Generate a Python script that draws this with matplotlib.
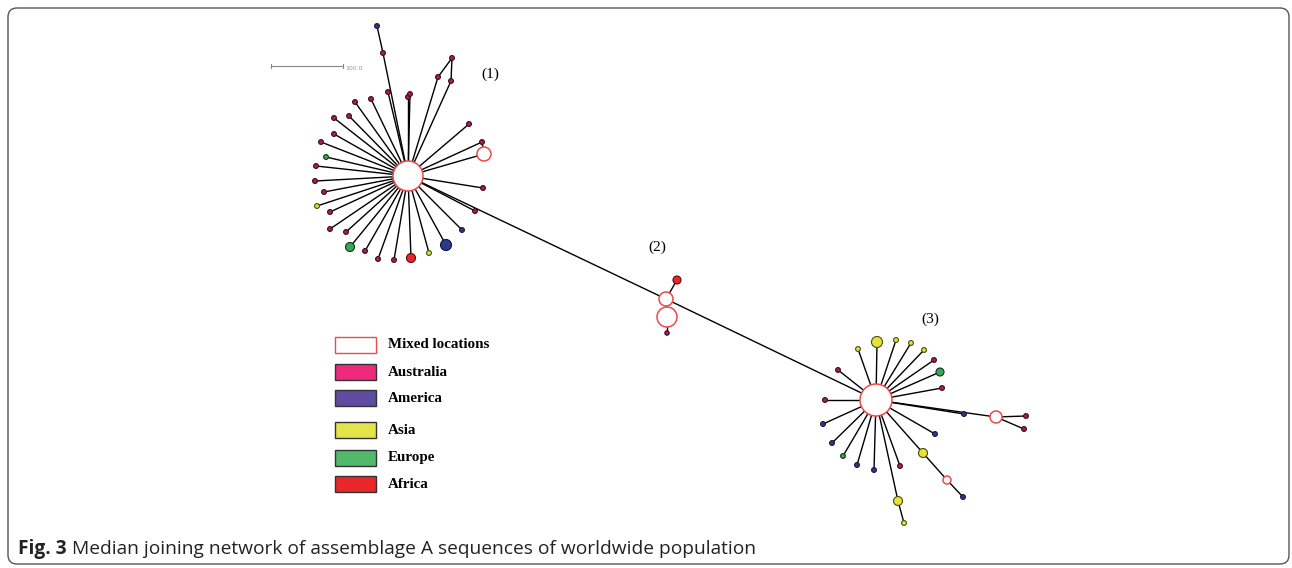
import matplotlib
matplotlib.use("Agg")
import matplotlib.pyplot as plt
from matplotlib.patches import Circle, Rectangle, FancyBboxPatch

# --- network data (pixel layout of the published figure) ---
# node id -> x, y, radius, group
node_ids = ["c1", "m1", "c2a", "c2b", "c3", "m3a", "m3b",
            "a1", "a2", "a3", "a4", "a5", "a6", "a7", "a8", "a9", "a10",
            "a11", "a12", "a13", "a14", "a15", "a16", "a17", "a18", "a19", "a20",
            "a21", "a22", "a23", "a24", "a25", "a26", "a27", "a28", "a29", "a30",
            "a31", "a32", "a33",
            "b1", "b2",
            "d1", "d2", "d3", "d4", "d5", "d6", "d7", "d8", "d9", "d10",
            "d11", "d12", "d13", "d14", "d15", "d16", "d17", "d18", "d19", "d20",
            "d21", "d22", "d23", "d24", "d25"]
node_x = [408, 484, 666, 667, 876, 996, 947,
          383, 377, 388, 408, 410, 371, 355, 349, 334, 334,
          321, 326, 316, 315, 324, 317, 330, 330, 346, 350,
          365, 378, 394, 411, 429, 446, 462, 475, 483, 482,
          438, 452, 451,
          677, 667,
          877, 858, 896, 911, 924, 934, 940, 942, 838, 825,
          823, 832, 843, 857, 874, 900, 935, 923, 963, 898,
          904, 964, 1026, 1024, 469]
node_y = [176, 154, 299, 317, 400, 417, 480,
          53, 26, 92, 97, 94, 99, 102, 116, 118, 134,
          142, 157, 166, 181, 192, 206, 212, 229, 232, 247,
          251, 259, 260, 258, 253, 245, 230, 211, 188, 142,
          77, 58, 81,
          280, 333,
          342, 349, 340, 343, 350, 360, 372, 388, 370, 400,
          424, 443, 456, 465, 470, 466, 434, 453, 497, 501,
          523, 414, 416, 429, 124]
node_r = [15, 7, 7, 10, 16, 6, 4,
          2.4, 2.4, 2.4, 2.4, 2.4, 2.4, 2.4, 2.4, 2.4, 2.4,
          2.4, 2.4, 2.4, 2.4, 2.4, 2.4, 2.4, 2.4, 2.4, 4.5,
          2.4, 2.4, 2.4, 4.5, 2.4, 5.5, 2.4, 2.4, 2.4, 2.4,
          2.4, 2.4, 2.4,
          4, 2.2,
          5.5, 2.4, 2.4, 2.4, 2.4, 2.4, 4, 2.4, 2.4, 2.4,
          2.4, 2.4, 2.4, 2.4, 2.4, 2.4, 2.4, 4.5, 2.4, 4.5,
          2.4, 2.4, 2.4, 2.4, 2.4]
node_group = ["Mixed", "Mixed", "Mixed", "Mixed", "Mixed", "Mixed", "Mixed",
              "Australia", "America", "Australia", "Australia", "Australia", "Australia",
              "Australia", "Australia", "Australia", "Australia",
              "Australia", "Europe", "Australia", "Australia", "Australia", "Asia",
              "Australia", "Australia", "Australia", "Europe",
              "Australia", "Australia", "Australia", "Africa", "Asia", "America",
              "America", "Australia", "Australia", "Australia",
              "Australia", "Australia", "Australia",
              "Africa", "Australia",
              "Asia", "Asia", "Asia", "Asia", "Asia", "Australia", "Europe", "Australia",
              "Australia", "Australia",
              "America", "America", "Europe", "America", "America", "Australia", "America",
              "Asia", "America", "Asia",
              "Asia", "America", "Australia", "Australia", "Australia"]

edges = [("c1", "m1"), ("c1", "c2a"), ("c2a", "c3"), ("c2a", "b1"), ("c2a", "c2b"),
         ("c2b", "b2"),
         ("c1", "a1"), ("a1", "a2"), ("c1", "a3"), ("c1", "a4"), ("c1", "a5"),
         ("c1", "a6"), ("c1", "a7"), ("c1", "a8"), ("c1", "a9"), ("c1", "a10"),
         ("c1", "a11"), ("c1", "a12"), ("c1", "a13"), ("c1", "a14"), ("c1", "a15"),
         ("c1", "a16"), ("c1", "a17"), ("c1", "a18"), ("c1", "a19"), ("c1", "a20"),
         ("c1", "a21"), ("c1", "a22"), ("c1", "a23"), ("c1", "a24"), ("c1", "a25"),
         ("c1", "a26"), ("c1", "a27"), ("c1", "a28"), ("c1", "a29"), ("c1", "a30"),
         ("a30", "m1"), ("c1", "a31"), ("a31", "a32"), ("a32", "a33"), ("c1", "a33"),
         ("c1", "d25"),
         ("c3", "d1"), ("c3", "d2"), ("c3", "d3"), ("c3", "d4"), ("c3", "d5"),
         ("c3", "d6"), ("c3", "d7"), ("c3", "d8"), ("c3", "d9"), ("c3", "d10"),
         ("c3", "d11"), ("c3", "d12"), ("c3", "d13"), ("c3", "d14"), ("c3", "d15"),
         ("c3", "d16"), ("c3", "d17"), ("c3", "d18"), ("d18", "m3b"), ("m3b", "d19"),
         ("c3", "d20"), ("d20", "d21"), ("c3", "d22"), ("c3", "m3a"),
         ("m3a", "d23"), ("m3a", "d24")]

cluster_labels = ["(1)", "(2)", "(3)"]
cluster_label_x = [490, 657, 930]
cluster_label_y = [74, 247, 319]

legend_names = ["Mixed locations", "Australia", "America", "Asia", "Europe", "Africa"]
legend_colors = ["white", "#ee2a7b", "#5f4b9f", "#e3e34a", "#52b86a", "#e8272b"]

# node fill / edge per group
fill = {"Mixed": "white", "Australia": "#a8205a", "America": "#2b3a8e",
        "Asia": "#e3e33a", "Europe": "#3aa655", "Africa": "#e8262a"}
edge = {"Mixed": "#f04848", "Australia": "#3a0a1a", "America": "#10153a",
        "Asia": "#4a4a10", "Europe": "#103518", "Africa": "#5a0a0a"}

W, H = 1292, 568
fig = plt.figure(figsize=(W / 100, H / 100), dpi=100)
ax = fig.add_axes([0, 0, 1, 1])
ax.set_xlim(0, W)
ax.set_ylim(H, 0)
ax.axis("off")

# rounded frame
ax.add_patch(FancyBboxPatch((8, 8), W - 11, H - 12,
                            boxstyle="round,pad=0,rounding_size=9",
                            fc="none", ec="#555555", lw=1.0))

pos = {n: (x, y) for n, x, y in zip(node_ids, node_x, node_y)}
for a, b in edges:
    ax.plot([pos[a][0], pos[b][0]], [pos[a][1], pos[b][1]],
            color="black", lw=1.0, zorder=1)

for n, x, y, r, g in zip(node_ids, node_x, node_y, node_r, node_group):
    lw = 1.1 if g == "Mixed" else 0.8
    ax.add_patch(Circle((x, y), r, fc=fill[g], ec=edge[g], lw=lw, zorder=3))

for t, x, y in zip(cluster_labels, cluster_label_x, cluster_label_y):
    ax.text(x, y, t, fontsize=11, family="Liberation Serif",
            ha="center", va="center")

# scale bar
ax.plot([271, 343], [66, 66], color="#888888", lw=0.8)
ax.plot([271, 271], [64, 68], color="#888888", lw=0.8)
ax.plot([343, 343], [64, 68], color="#888888", lw=0.8)
ax.text(345, 69, "100.0", fontsize=4.5, color="#999999", va="center")

# legend
leg_y = [345, 372, 398, 430, 458, 484]
for name, col, y in zip(legend_names, legend_colors, leg_y):
    ec = "#f04848" if name == "Mixed locations" else "#333333"
    ax.add_patch(Rectangle((335, y - 8), 41, 16, fc=col, ec=ec, lw=1.0))
    ax.text(388, y, name, fontsize=10.8, family="Liberation Serif",
            weight="bold", va="center")

# caption
t1 = ax.text(18, 549, "Fig. 3", fontsize=13.8, family="Open Sans",
             weight="bold", va="center", color="#222222")
fig.canvas.draw()
bb = t1.get_window_extent()
x_end = ax.transData.inverted().transform((bb.x1, bb.y0))[0]
ax.text(x_end + 5, 549, "Median joining network of assemblage A sequences of worldwide population",
        fontsize=13.8, family="Open Sans", va="center", color="#222222")

fig.savefig("out.png", dpi=100)
